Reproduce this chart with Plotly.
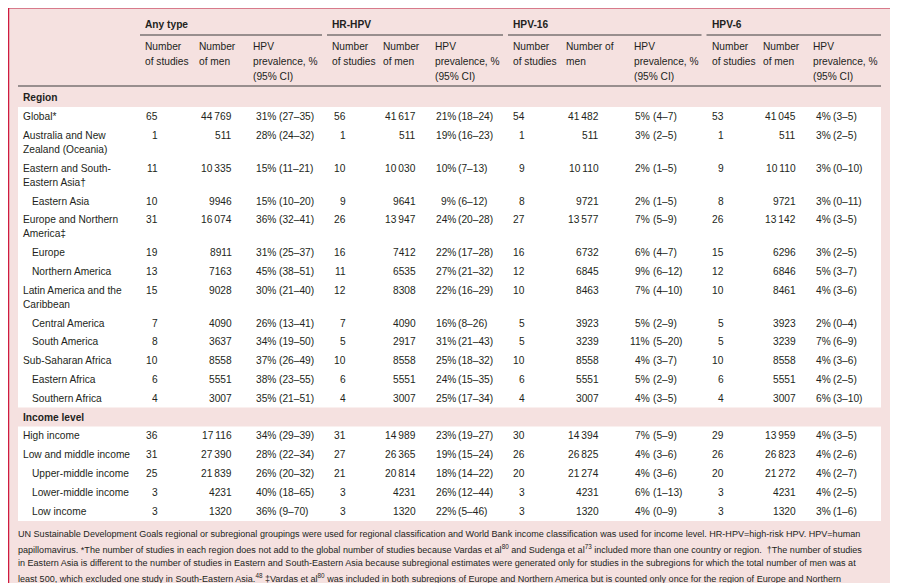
import plotly.graph_objects as go

# ---------------- data ----------------
row_labels = [
    "Global*",
    "Australia and New<br>Zealand (Oceania)",
    "Eastern and South-<br>Eastern Asia†",
    "Eastern Asia",
    "Europe and Northern<br>America‡",
    "Europe",
    "Northern America",
    "Latin America and the<br>Caribbean",
    "Central America",
    "South America",
    "Sub-Saharan Africa",
    "Eastern Africa",
    "Southern Africa",
    "High income",
    "Low and middle income",
    "Upper-middle income",
    "Lower-middle income",
    "Low income",
]
row_indent = [0, 0, 0, 1, 0, 1, 1, 0, 1, 1, 0, 1, 1, 0, 0, 1, 1, 1]
section_titles = ["Region", "Income level"]
section_start = [0, 13]  # row index at which each section begins

group_names = ["Any type", "HR-HPV", "HPV-16", "HPV-6"]
sub_headers = [
    ["Number<br>of studies", "Number<br>of men", "HPV<br>prevalence, %<br>(95% CI)"],
    ["Number<br>of studies", "Number<br>of men", "HPV<br>prevalence, %<br>(95% CI)"],
    ["Number<br>of studies", "Number of<br>men", "HPV<br>prevalence, %<br>(95% CI)"],
    ["Number<br>of studies", "Number<br>of men", "HPV<br>prevalence, %<br>(95% CI)"],
]

any_studies = [65, 1, 11, 10, 31, 19, 13, 15, 7, 8, 10, 6, 4, 36, 31, 25, 3, 3]
any_men = [44769, 511, 10335, 9946, 16074, 8911, 7163, 9028, 4090, 3637, 8558, 5551, 3007, 17116, 27390, 21839, 4231, 1320]
any_prev = [31, 28, 15, 15, 36, 31, 45, 30, 26, 34, 37, 38, 35, 34, 28, 26, 40, 36]
any_lo = [27, 24, 11, 10, 32, 25, 38, 21, 13, 19, 26, 23, 21, 29, 22, 20, 18, 9]
any_hi = [35, 32, 21, 20, 41, 37, 51, 40, 41, 50, 49, 55, 51, 39, 34, 32, 65, 70]

hr_studies = [56, 1, 10, 9, 26, 16, 11, 12, 7, 5, 10, 6, 4, 31, 27, 21, 3, 3]
hr_men = [41617, 511, 10030, 9641, 13947, 7412, 6535, 8308, 4090, 2917, 8558, 5551, 3007, 14989, 26365, 20814, 4231, 1320]
hr_prev = [21, 19, 10, 9, 24, 22, 27, 22, 16, 31, 25, 24, 25, 23, 19, 18, 26, 22]
hr_lo = [18, 16, 7, 6, 20, 17, 21, 16, 8, 21, 18, 15, 17, 19, 15, 14, 12, 5]
hr_hi = [24, 23, 13, 12, 28, 28, 32, 29, 26, 43, 32, 35, 34, 27, 24, 22, 44, 46]

h16_studies = [54, 1, 9, 8, 27, 16, 12, 10, 5, 5, 10, 6, 4, 30, 26, 20, 3, 3]
h16_men = [41482, 511, 10110, 9721, 13577, 6732, 6845, 8463, 3923, 3239, 8558, 5551, 3007, 14394, 26825, 21274, 4231, 1320]
h16_prev = [5, 3, 2, 2, 7, 6, 9, 7, 5, 11, 4, 5, 4, 7, 4, 4, 6, 4]
h16_lo = [4, 2, 1, 1, 5, 4, 6, 4, 2, 5, 3, 2, 3, 5, 3, 3, 1, 0]
h16_hi = [7, 5, 5, 5, 9, 7, 12, 10, 9, 20, 7, 9, 5, 9, 6, 6, 13, 9]

h6_studies = [53, 1, 9, 8, 26, 15, 12, 10, 5, 5, 10, 6, 4, 29, 26, 20, 3, 3]
h6_men = [41045, 511, 10110, 9721, 13142, 6296, 6846, 8461, 3923, 3239, 8558, 5551, 3007, 13959, 26823, 21272, 4231, 1320]
h6_prev = [4, 3, 3, 3, 4, 3, 5, 4, 2, 7, 4, 4, 6, 4, 4, 4, 4, 3]
h6_lo = [3, 2, 0, 0, 3, 2, 3, 3, 0, 6, 3, 2, 3, 3, 2, 2, 2, 1]
h6_hi = [5, 5, 10, 11, 5, 5, 7, 6, 4, 9, 6, 5, 10, 5, 6, 7, 5, 6]

footnote_lines = [
    "UN Sustainable Development Goals regional or subregional groupings were used for regional classification and World Bank income classification was used for income level. HR-HPV=high-risk HPV. HPV=human",
    "papillomavirus. *The number of studies in each region does not add to the global number of studies because Vardas et al<sup>80</sup> and Sudenga et al<sup>73</sup> included more than one country or region.  †The number of studies",
    "in Eastern Asia is different to the number of studies in Eastern and South-Eastern Asia because subregional estimates were generated only for studies in the subregions for which the total number of men was at",
    "least 500, which excluded one study in South-Eastern Asia.<sup>48</sup> ‡Vardas et al<sup>80</sup> was included in both subregions of Europe and Northern America but is counted only once for the region of Europe and Northern",
]

# ---------------- styling / layout ----------------
W, H = 898, 583
OFF = 8  # page body margin of the html page
PINK = "#F5E1E0"
TXT = "#231F20"
LINE = "#3C3C3C"
FONT = "Liberation Sans"
FS = 10.2
FS_B = 10.2
FS_NOTE = 9.05

col_groups = [
    dict(studies=any_studies, men=any_men, prev=any_prev, lo=any_lo, hi=any_hi,
         n_r=157.5, men_r=231.5, est_r=276, ci_l=278.5, gx=145, sx=[145, 199, 252.5], ul=(140, 322)),
    dict(studies=hr_studies, men=hr_men, prev=hr_prev, lo=hr_lo, hi=hr_hi,
         n_r=345.5, men_r=415.5, est_r=455.5, ci_l=457.5, gx=332, sx=[332, 383.3, 435], ul=(327, 503)),
    dict(studies=h16_studies, men=h16_men, prev=h16_prev, lo=h16_lo, hi=h16_hi,
         n_r=524.5, men_r=598.5, est_r=650, ci_l=652.5, gx=512.5, sx=[512.5, 566, 634], ul=(508, 701.5)),
    dict(studies=h6_studies, men=h6_men, prev=h6_prev, lo=h6_lo, hi=h6_hi,
         n_r=723.5, men_r=795.5, est_r=830.5, ci_l=833, gx=711.5, sx=[711.5, 762.7, 813.3], ul=(706.5, 881)),
]

LEFT, RIGHT = 18, 881
LAB_X, IND_X = 23, 32.3
Y0, STEP, EXTRA = 116.7, 18.8, 14.0
LINE_GAP = 13.7


def fmt_int(n):
    if n >= 10000:
        return f"{n:,}".replace(",", "\u2009")
    return str(n)


annotations = []
shapes = []


def txt(x, y, s, anchor="left", size=FS, bold=False, family=FONT, color=TXT):
    if bold:
        s = "<b>" + s + "</b>"
    annotations.append(dict(
        x=x, y=y, xref="x", yref="y", text=s, showarrow=False,
        xanchor=anchor, yanchor="middle", align=anchor,
        font=dict(family=family, size=size, color=color),
        borderpad=0, borderwidth=0,
    ))


# row positions (Income level heading occupies one row slot)
row_y = []
income_y = None
y = Y0
for i, lab in enumerate(row_labels):
    if i == section_start[1]:
        income_y = y
        y += STEP
    row_y.append(y)
    y += STEP + EXTRA * (lab.count("<br>"))

# background shapes
shapes.append(dict(type="rect", xref="x", yref="y", x0=8, x1=891, y0=7.5, y1=H + 5,
                   fillcolor=PINK, line=dict(width=0), layer="below"))
shapes.append(dict(type="rect", xref="x", yref="y", x0=LEFT, x1=RIGHT, y0=107, y1=521,
                   fillcolor="white", line=dict(width=0), layer="below"))
shapes.append(dict(type="rect", xref="x", yref="y", x0=LEFT, x1=RIGHT,
                   y0=income_y - 9.5, y1=income_y + 9.5,
                   fillcolor=PINK, line=dict(width=0), layer="below"))
# frame borders
shapes.append(dict(type="line", xref="x", yref="y", x0=8, x1=891.5, y0=8, y1=8,
                   line=dict(color="#D87A8B", width=2.2)))
shapes.append(dict(type="line", xref="x", yref="y", x0=8.6, x1=8.6, y0=7, y1=H + 5,
                   line=dict(color="#CF1B3F", width=1.3)))
shapes.append(dict(type="line", xref="x", yref="y", x0=891, x1=891, y0=7, y1=H + 5,
                   line=dict(color="#C8405A", width=1.3)))
# header rules
for g in col_groups:
    shapes.append(dict(type="line", xref="x", yref="y", x0=g["ul"][0], x1=g["ul"][1], y0=35, y1=35,
                       line=dict(color=LINE, width=1.1)))
shapes.append(dict(type="line", xref="x", yref="y", x0=LEFT, x1=RIGHT, y0=86, y1=86,
                   line=dict(color=LINE, width=1.2)))

# headers
for gname, subs, g in zip(group_names, sub_headers, col_groups):
    txt(g["gx"], 24.3, gname, bold=True, size=FS_B)
    for sx, sub in zip(g["sx"], subs):
        for k, part in enumerate(sub.split("<br>")):
            txt(sx, 46.7 + k * 14.7, part)

txt(LAB_X, 97.7, "Region", bold=True, size=FS_B)
txt(LAB_X, income_y, "Income level", bold=True, size=FS_B)

# rows
for i, lab in enumerate(row_labels):
    ry = row_y[i]
    lx = IND_X if row_indent[i] else LAB_X
    for k, part in enumerate(lab.split("<br>")):
        txt(lx, ry + k * LINE_GAP, part)
    for g in col_groups:
        txt(g["n_r"], ry, str(g["studies"][i]), anchor="right")
        txt(g["men_r"], ry, fmt_int(g["men"][i]), anchor="right")
        txt(g["est_r"], ry, f"{g['prev'][i]}%", anchor="right")
        txt(g["ci_l"], ry, f"({g['lo'][i]}\u2013{g['hi'][i]})", anchor="left")

# footnote
for k, line in enumerate(footnote_lines):
    txt(LEFT, 534 + k * 14.5, line, size=FS_NOTE)

fig = go.Figure()
fig.update_layout(
    width=W - OFF, height=H - OFF,
    margin=dict(l=0, r=0, t=0, b=0),
    paper_bgcolor="white", plot_bgcolor="white",
    xaxis=dict(range=[OFF, W], visible=False, fixedrange=True),
    yaxis=dict(range=[H, OFF], visible=False, fixedrange=True),
    showlegend=False,
    annotations=annotations,
    shapes=shapes,
)
fig.write_html("out.html")
